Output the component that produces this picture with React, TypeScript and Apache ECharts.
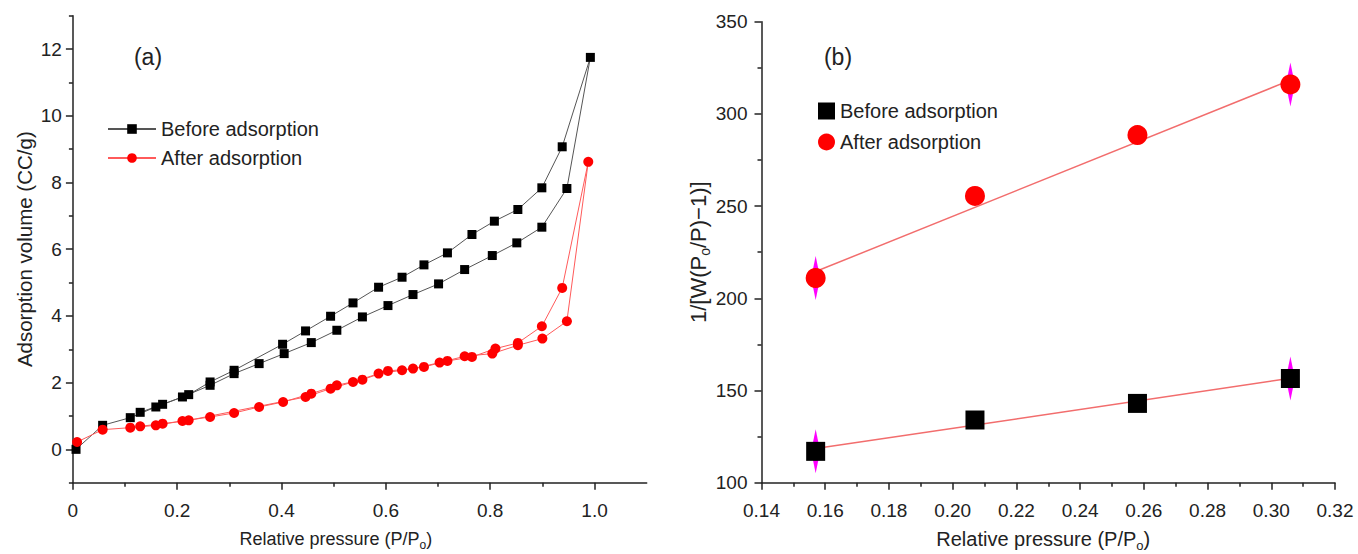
import React, { useEffect, useRef } from 'react';
import * as echarts from 'echarts';

// ---------- Panel (a): isotherms (P/Po, adsorbed volume CC/g) ----------
const beforeAdsorptionBranch: [number, number][] = [
  [0.006, 0.0], [0.057, 0.72], [0.11, 0.95], [0.159, 1.27], [0.21, 1.57], [0.263, 1.92],
  [0.309, 2.27], [0.357, 2.57], [0.405, 2.87], [0.457, 3.2], [0.506, 3.57], [0.555, 3.97],
  [0.604, 4.31], [0.652, 4.64], [0.701, 4.96], [0.751, 5.39], [0.804, 5.81], [0.851, 6.19],
  [0.899, 6.66], [0.947, 7.82], [0.992, 11.75],
];
const beforeDesorptionBranch: [number, number][] = [
  [0.938, 9.07], [0.899, 7.84], [0.853, 7.19], [0.808, 6.84], [0.765, 6.44], [0.718, 5.89],
  [0.673, 5.53], [0.631, 5.16], [0.586, 4.86], [0.537, 4.39], [0.494, 3.99], [0.446, 3.55],
  [0.402, 3.15], [0.309, 2.37], [0.263, 2.02], [0.222, 1.64], [0.172, 1.35], [0.129, 1.11],
];
const afterAdsorptionBranch: [number, number][] = [
  [0.008, 0.22], [0.057, 0.59], [0.11, 0.65], [0.159, 0.72], [0.21, 0.85], [0.263, 0.97],
  [0.309, 1.09], [0.357, 1.27], [0.403, 1.42], [0.457, 1.67], [0.506, 1.92], [0.555, 2.09],
  [0.604, 2.35], [0.652, 2.42], [0.703, 2.6], [0.751, 2.79], [0.804, 2.87], [0.853, 3.12],
  [0.9, 3.32], [0.947, 3.84], [0.988, 8.62],
];
const afterDesorptionBranch: [number, number][] = [
  [0.938, 4.84], [0.899, 3.69], [0.853, 3.19], [0.81, 3.02], [0.765, 2.77], [0.718, 2.65],
  [0.673, 2.47], [0.631, 2.37], [0.586, 2.27], [0.537, 2.02], [0.494, 1.82], [0.446, 1.57],
  [0.222, 0.87], [0.172, 0.77], [0.129, 0.69],
];

const xTicksA = [0, 0.2, 0.4, 0.6, 0.8, 1.0];
const xMinorTicksA = [0.1, 0.3, 0.5, 0.7, 0.9];
const yTicksA = [0, 2, 4, 6, 8, 10, 12];
const yMinorTicksA = [-1, 1, 3, 5, 7, 9, 11, 13];

// ---------- Panel (b): BET plot ----------
const betPressure = [0.157, 0.207, 0.258, 0.306];
const betBefore = [117, 134, 143, 156.5];
const betAfter = [211, 255.5, 288.5, 316];
const fitBefore: [number, number][] = [[0.157, 118.5], [0.306, 156.6]];
const fitAfter: [number, number][] = [[0.157, 214.5], [0.306, 318.3]];
const errorBarIndices = [0, 3];

const seriesNames = ['Before adsorption', 'After adsorption'];

const FONT = '"Liberation Sans", Arial, sans-serif';
const INK = '#222';

function pairs(xs: number[], ys: number[]) {
  return xs.map((x, i) => [x, ys[i]]);
}

function nameStyle(size: number) {
  return {
    fontSize: size,
    color: INK,
    fontFamily: FONT,
    rich: {
      sub: { fontSize: Math.round(size * 0.65), padding: [Math.round(size * 0.6), 0, 0, 0], color: INK, fontFamily: FONT },
    },
  };
}

export default function App() {
  const ref = useRef<HTMLDivElement>(null);

  useEffect(() => {
    if (!ref.current) return;
    const chart = echarts.init(ref.current, undefined, { renderer: 'svg' });

    const axisLine = { onZero: false, lineStyle: { color: INK, width: 1.5 } };
    const tickStyle = { color: INK, width: 1.5 };
    const labelStyle = { fontSize: 19, color: INK, fontFamily: FONT };

    const errData = [
      ...errorBarIndices.map((i) => [betPressure[i], betBefore[i]]),
      ...errorBarIndices.map((i) => [betPressure[i], betAfter[i]]),
    ];

    const option: any = {
      animation: false,
      backgroundColor: '#fff',
      textStyle: { fontFamily: FONT },
      grid: [
        { left: 72.9, top: 15.7, width: 573.8, height: 467, outerBoundsMode: 'none' },
        { left: 761.5, top: 21.7, width: 573.5, height: 461, outerBoundsMode: 'none' },
      ],
      xAxis: [
        {
          gridIndex: 0, type: 'value', min: 0, max: 1.1, position: 'bottom',
          axisLine,
          axisTick: { customValues: xTicksA, length: 7, lineStyle: tickStyle },
          axisLabel: {
            ...labelStyle, customValues: xTicksA, margin: 18,
            formatter: (v: number) => (v === 0 ? '0' : v.toFixed(1)),
          },
          splitLine: { show: false },
          name: 'Relative pressure (P/P{sub|o})',
          nameLocation: 'middle', nameGap: 45, nameTextStyle: { ...nameStyle(18), padding: [0, 48, 0, 0] },
        },
        {
          gridIndex: 0, type: 'value', min: 0, max: 1.1, position: 'bottom',
          axisLine: { show: false, onZero: false },
          axisTick: { customValues: xMinorTicksA, length: 4, lineStyle: tickStyle },
          axisLabel: { show: false },
          splitLine: { show: false },
        },
        {
          gridIndex: 1, type: 'value', min: 0.14, max: 0.32, interval: 0.02, position: 'bottom',
          axisLine,
          axisTick: { length: 7, lineStyle: tickStyle },
          minorTick: { show: true, splitNumber: 2, length: 4, lineStyle: tickStyle },
          axisLabel: { ...labelStyle, margin: 18, formatter: (v: number) => v.toFixed(2) },
          splitLine: { show: false },
          name: 'Relative pressure (P/P{sub|o})',
          nameLocation: 'middle', nameGap: 44, nameTextStyle: { ...nameStyle(20), padding: [0, 10, 0, 0] },
        },
      ],
      yAxis: [
        {
          gridIndex: 0, type: 'value', min: -1, max: 13, position: 'left',
          axisLine,
          axisTick: { customValues: yTicksA, length: 7, lineStyle: tickStyle },
          axisLabel: { ...labelStyle, customValues: yTicksA, margin: 11 },
          splitLine: { show: false },
          name: 'Adsorption volume (CC/g)',
          nameLocation: 'middle', nameGap: 38, nameTextStyle: nameStyle(20.5),
        },
        {
          gridIndex: 0, type: 'value', min: -1, max: 13, position: 'left',
          axisLine: { show: false, onZero: false },
          axisTick: { customValues: yMinorTicksA, length: 4, lineStyle: tickStyle },
          axisLabel: { show: false },
          splitLine: { show: false },
        },
        {
          gridIndex: 1, type: 'value', min: 100, max: 350, interval: 50, position: 'left',
          axisLine,
          axisTick: { length: 7, lineStyle: tickStyle },
          minorTick: { show: true, splitNumber: 2, length: 4, lineStyle: tickStyle },
          axisLabel: { ...labelStyle, margin: 14 },
          splitLine: { show: false },
          name: '1/[W(P{sub|o}/P)\u22121)]',
          nameLocation: 'middle', nameGap: 33, nameTextStyle: nameStyle(22),
        },
      ],
      legend: [
        {
          orient: 'vertical', left: 107, top: 119, padding: 0,
          itemWidth: 48, itemHeight: 12, itemGap: 9,
          textStyle: { fontSize: 20, color: INK, fontFamily: FONT, lineHeight: 20 },
          data: seriesNames,
        },
        {
          orient: 'vertical', left: 818, top: 101, padding: 0,
          itemWidth: 17, itemHeight: 17, itemGap: 11,
          textStyle: { fontSize: 20, color: INK, fontFamily: FONT, lineHeight: 20 },
          data: [
            { name: seriesNames[0], icon: 'rect' },
            { name: seriesNames[1], icon: 'circle' },
          ],
        },
      ],
      graphic: [
        { type: 'text', x: 148, y: 57, style: { text: '(a)', fontSize: 23, fill: INK, fontFamily: FONT, textAlign: 'center', textVerticalAlign: 'middle' } },
        { type: 'text', x: 838, y: 57, style: { text: '(b)', fontSize: 23, fill: INK, fontFamily: FONT, textAlign: 'center', textVerticalAlign: 'middle' } },
      ],
      series: [
        {
          name: seriesNames[0], type: 'line', xAxisIndex: 0, yAxisIndex: 0,
          data: [...beforeAdsorptionBranch, ...beforeDesorptionBranch],
          symbol: 'rect', symbolSize: 9, showAllSymbol: true,
          itemStyle: { color: '#000' },
          lineStyle: { color: '#555', width: 1 },
          z: 3,
        },
        {
          name: seriesNames[1], type: 'line', xAxisIndex: 0, yAxisIndex: 0,
          data: [...afterAdsorptionBranch, ...afterDesorptionBranch],
          symbol: 'circle', symbolSize: 10, showAllSymbol: true,
          itemStyle: { color: '#ff0000' },
          lineStyle: { color: '#ff5a5a', width: 1 },
          z: 3,
        },
        {
          name: 'error', type: 'scatter', xAxisIndex: 2, yAxisIndex: 2,
          data: errData, symbol: 'diamond', symbolSize: [9, 44],
          itemStyle: { color: '#ff00ff', opacity: 1 }, z: 1,
        },
        {
          name: 'fitBefore', type: 'line', xAxisIndex: 2, yAxisIndex: 2,
          data: fitBefore, symbol: 'none', lineStyle: { color: '#f26d6d', width: 1.5 }, z: 2,
        },
        {
          name: 'fitAfter', type: 'line', xAxisIndex: 2, yAxisIndex: 2,
          data: fitAfter, symbol: 'none', lineStyle: { color: '#f26d6d', width: 1.5 }, z: 2,
        },
        {
          name: seriesNames[0], type: 'scatter', xAxisIndex: 2, yAxisIndex: 2,
          data: pairs(betPressure, betBefore), symbol: 'rect', symbolSize: 19,
          itemStyle: { color: '#000', opacity: 1 }, z: 3,
        },
        {
          name: seriesNames[1], type: 'scatter', xAxisIndex: 2, yAxisIndex: 2,
          data: pairs(betPressure, betAfter), symbol: 'circle', symbolSize: 20,
          itemStyle: { color: '#ff0000', opacity: 1 }, z: 3,
        },
      ],
    };

    chart.setOption(option);
    return () => chart.dispose();
  }, []);

  return (
    <div
      ref={ref}
      style={{ position: 'fixed', left: 0, top: 0, width: 1358, height: 554, background: '#fff' }}
    />
  );
}
